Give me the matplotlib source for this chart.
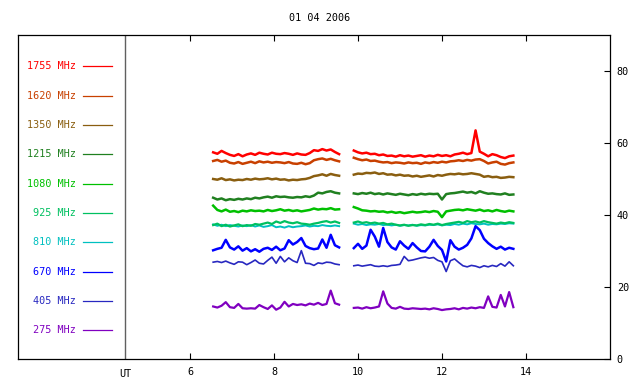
import numpy as np
import matplotlib
matplotlib.use("Agg")
import matplotlib.pyplot as plt
import matplotlib.transforms as mtransforms

plt.rcParams['font.family'] = ['DejaVu Sans Mono']

title = "01 04 2006"

# sample times (UT hours) for the two observing segments
t1 = np.round(np.arange(6.55, 9.56, 0.1), 2)
t2 = np.round(np.arange(9.9, 13.71, 0.1), 2)

labels = ["1755 MHz", "1620 MHz", "1350 MHz", "1215 MHz", "1080 MHz",
          "925 MHz", "810 MHz", "670 MHz", "405 MHz", "275 MHz"]
colors = ["#ff0000", "#c84000", "#8a5e10", "#208020", "#00c000",
          "#00c060", "#00c0c0", "#0000ff", "#2828c0", "#8000c0"]
widths = [1.8, 1.8, 1.8, 1.8, 1.8, 1.6, 1.4, 1.8, 1.2, 1.6]

f1755_a = [57.4, 57.0, 57.8, 57.2, 56.7, 56.4, 56.9, 56.3, 56.8, 57.1,
           56.7, 57.3, 57.0, 56.8, 57.3, 57.0, 56.9, 57.2, 57.0, 56.7,
           57.1, 56.8, 56.7, 57.2, 58.0, 57.8, 58.3, 57.9, 58.2, 57.5, 56.9]
f1755_b = [57.9, 57.4, 57.1, 57.3, 56.9, 57.0, 56.6, 56.8, 56.4, 56.5,
           56.2, 56.6, 56.3, 56.5, 56.2, 56.4, 56.6, 56.2, 56.5, 56.3,
           56.7, 56.4, 56.6, 56.3, 56.8, 57.0, 57.3, 56.9, 57.2, 63.5,
           57.6, 57.0, 56.3, 56.9, 56.6, 56.1, 55.8, 56.3, 56.5]

f1620_a = [55.0, 55.3, 54.8, 55.1, 54.5, 54.3, 54.7, 54.2, 54.5, 54.8,
           54.4, 54.9, 54.6, 54.8, 54.5, 54.7, 54.6, 54.4, 54.7, 54.3,
           54.2, 54.5, 54.1, 54.4, 55.2, 55.5, 55.7, 55.3, 55.6, 55.2, 54.9]
f1620_b = [55.9, 55.5, 55.2, 55.4, 55.0, 55.1, 54.8, 54.6, 54.7, 54.4,
           54.6, 54.5, 54.3, 54.6, 54.4, 54.5, 54.2, 54.6, 54.4, 54.7,
           54.5, 54.8, 54.6, 54.9, 55.0, 55.2, 55.0, 55.3, 55.1, 55.4,
           55.5, 55.0, 54.3, 54.6, 54.8, 54.2, 54.0, 54.4, 54.6]

f1350_a = [50.0, 49.8, 50.2, 49.7, 49.9, 49.6, 49.8, 49.7, 50.0, 49.8,
           50.1, 49.9, 50.0, 50.2, 49.9, 50.1, 49.8, 49.9, 49.6, 49.8,
           49.7, 49.9, 50.0, 50.3, 50.8, 51.0, 51.3, 50.9, 51.4, 51.1, 50.9]
f1350_b = [51.2, 51.5, 51.4, 51.7, 51.6, 51.8, 51.4, 51.6, 51.2, 51.3,
           51.0, 51.2, 50.9, 51.0, 50.7, 50.9, 50.6, 50.8, 51.0, 50.7,
           51.1, 50.9, 51.2, 51.4, 51.3, 51.5, 51.3, 51.4, 51.6, 51.4,
           51.2, 50.6, 50.8, 50.5, 50.6, 50.3, 50.4, 50.6, 50.5]

f1215_a = [44.8, 44.3, 44.6, 44.1, 44.4, 44.2, 44.5, 44.3, 44.6, 44.4,
           44.8, 44.6, 44.9, 45.1, 44.8, 45.2, 45.0, 45.1, 44.9, 44.8,
           45.0, 44.9, 45.2, 45.0, 45.4, 46.2, 46.0, 46.4, 46.6, 46.2, 46.0]
f1215_b = [46.0, 45.8, 46.1, 45.9, 46.2, 45.8, 46.0, 45.7, 46.0, 45.8,
           45.6, 45.9, 45.7, 45.5, 45.8, 45.6, 45.9, 45.7, 45.9, 45.8,
           45.9, 44.3, 45.8, 46.0, 46.1, 46.3, 46.5, 46.2, 46.4, 46.0,
           46.6, 46.2, 45.9, 46.0, 45.8, 45.7, 46.0, 45.6, 45.7]

f1080_a = [42.6, 41.4, 41.0, 41.5, 40.9, 41.1, 40.8, 41.2, 41.0, 41.3,
           41.1, 41.2, 41.0, 41.4, 41.1, 41.3, 41.6, 41.2, 41.4, 41.1,
           41.3, 41.0, 41.2, 41.4, 41.8, 41.5, 41.7, 41.6, 41.9, 41.5, 41.6]
f1080_b = [42.2, 41.8, 41.3, 41.2, 41.0, 41.1, 40.9, 41.0, 40.7, 40.9,
           40.6, 40.8, 40.5, 40.7, 40.9, 40.7, 40.8, 41.0, 40.8, 41.1,
           40.9, 39.4, 41.0, 41.2, 41.4, 41.5, 41.3, 41.6, 41.4, 41.2,
           41.5, 41.1, 41.3, 41.0, 41.4, 41.1, 40.9, 41.2, 41.0]

f925_a = [37.2, 37.6, 36.9, 37.3, 36.8, 37.1, 37.4, 36.9, 37.2, 37.0,
          37.5, 37.3, 37.6, 37.9, 37.5, 38.2, 37.8, 38.3, 37.9, 37.7,
          38.0, 37.6, 37.5, 37.3, 37.6, 37.8, 38.1, 38.3, 37.9, 38.2, 37.8]
f925_b = [37.9, 38.2, 37.8, 38.0, 37.7, 37.9, 37.6, 37.8, 37.4, 37.6,
          37.3, 37.1, 37.3, 37.0, 37.2, 37.1, 37.4, 37.2, 37.5, 37.3,
          37.6, 37.2, 37.5, 37.7, 37.9, 38.1, 37.8, 38.3, 38.0, 38.2,
          37.9, 38.3, 38.0, 37.8, 37.6, 37.9, 37.7, 38.0, 37.8]

f810_a = [37.4, 37.0, 37.3, 36.9, 37.2, 37.0, 36.8, 37.1, 36.9, 37.2,
          36.8, 37.1, 36.7, 36.9, 37.2, 36.6, 36.8, 36.5, 36.9, 36.6,
          36.8, 36.9, 37.1, 36.8, 37.0, 36.9, 37.2, 37.0, 36.9, 37.1, 36.9]
f810_b = [37.6, 37.3, 37.5, 37.2, 37.4, 37.3, 37.5, 37.2, 37.3, 37.1,
          37.3, 37.0, 37.2, 37.1, 37.3, 37.0, 37.2, 37.1, 37.3, 37.2,
          37.4, 37.1, 37.3, 37.2, 37.5, 37.3, 37.6, 37.4, 37.7, 37.5,
          37.4, 37.6, 37.3, 37.5, 37.4, 37.6, 37.5, 37.7, 37.6]

f670_a = [30.2, 30.6, 30.9, 33.1, 31.0, 30.4, 31.3, 30.1, 30.8, 29.9,
          30.5, 29.8, 30.6, 30.9, 30.3, 31.2, 30.2, 30.7, 33.0, 31.8,
          32.5, 33.6, 31.4, 30.8, 30.5, 30.7, 33.2, 30.9, 34.5, 31.6, 31.0]
f670_b = [30.8, 32.0, 30.6, 31.5, 35.9, 34.0, 31.2, 36.4, 32.5, 31.0,
          30.4, 32.7, 31.5, 30.6, 32.2, 31.0, 30.0, 29.9, 31.2, 33.1,
          31.4, 30.3, 27.1, 33.0, 31.2, 30.4, 30.9, 31.7, 33.5, 36.9,
          35.8, 33.4, 32.2, 31.3, 30.6, 31.2, 30.4, 30.9, 30.6]

f405_a = [26.9, 27.1, 26.8, 27.2, 26.7, 26.3, 27.0, 26.9, 26.2, 26.8,
          27.5, 26.6, 26.4, 27.4, 28.3, 26.6, 28.5, 27.0, 28.1, 27.3,
          26.8, 30.1, 26.6, 26.5, 26.0, 26.7, 26.5, 26.9, 26.8, 26.4, 26.2]
f405_b = [25.9, 26.1, 25.8, 26.0, 26.2, 25.8, 25.7, 25.9, 25.7, 26.0,
          26.1, 26.3, 28.5, 27.3, 27.5, 27.8, 28.1, 28.3, 28.0, 28.2,
          27.4, 27.0, 24.3, 27.3, 27.8, 26.8, 25.9, 25.6, 26.0, 25.8,
          25.4, 25.9, 25.6, 26.0, 25.7, 26.5, 25.8, 27.0, 25.9]

f275_a = [14.6, 14.3, 14.8, 15.8, 14.4, 14.2, 15.3, 14.1, 14.0, 14.1,
          14.0, 15.0, 14.4, 13.9, 14.9, 13.7, 14.3, 15.9, 14.6, 15.3,
          15.0, 15.2, 14.9, 15.4, 15.1, 15.6, 15.0, 15.3, 19.0, 15.5, 15.1]
f275_b = [14.2, 14.3, 14.0, 14.4, 14.1, 14.3, 14.6, 18.8, 15.4, 14.2,
          14.0, 14.5, 14.0, 13.9, 14.1, 14.0, 13.9, 14.0, 13.8, 14.1,
          13.9, 13.6, 13.8, 13.9, 14.1, 13.8, 14.2, 14.0, 14.3, 14.1,
          14.4, 14.2, 17.4, 14.5, 14.3, 17.8, 14.6, 18.6, 14.4]

series = [(f1755_a, f1755_b), (f1620_a, f1620_b), (f1350_a, f1350_b),
          (f1215_a, f1215_b), (f1080_a, f1080_b), (f925_a, f925_b),
          (f810_a, f810_b), (f670_a, f670_b), (f405_a, f405_b),
          (f275_a, f275_b)]

# legend rows (data y) and x of the label / sample line
legend_y = [81.25, 73.1, 65.0, 56.85, 48.7, 40.55, 32.4, 24.3, 16.15, 8.0]
ut_x = 4.45

fig = plt.figure(figsize=(6.4, 3.84), dpi=100)
ax = fig.add_axes([0.028, 0.065, 0.925, 0.844])

tt = np.concatenate([t1, [np.nan], t2])
# draw lowest frequency first so higher ones sit on top
for i in range(len(series) - 1, -1, -1):
    a, b = series[i]
    vals = np.concatenate([a, [np.nan], b])
    ax.plot(tt, vals, color=colors[i], lw=widths[i])

for lab, col, ly in zip(labels, colors, legend_y):
    ax.text(3.28, ly, lab, color=col, fontsize=7.3, ha='right', va='center')
    ax.plot([3.45, 4.13], [ly, ly], color=col, lw=0.9)

ax.axvline(ut_x, color='#606060', lw=1)

ax.set_xlim(1.9, 16)
ax.set_ylim(0, 90)
ax.set_xticks([6, 8, 10, 12, 14])
ax.set_yticks([0, 20, 40, 60, 80])
ax.tick_params(axis='x', direction='in', top=True, bottom=True, length=4,
               labelsize=7.3, pad=6, width=0.8)
ax.tick_params(axis='y', direction='in', left=False, right=True,
               labelleft=False, labelright=True, length=4, labelsize=7.3,
               pad=5, width=0.8)
for s in ax.spines.values():
    s.set_linewidth(0.9)

trans = mtransforms.blended_transform_factory(ax.transData, ax.transAxes)
ax.text(ut_x, -0.03, "UT", transform=trans, ha='center', va='top', fontsize=7.3)

fig.text(0.5, 0.952, title, ha='center', va='center', fontsize=7.3)

fig.savefig("out.png", dpi=100)
